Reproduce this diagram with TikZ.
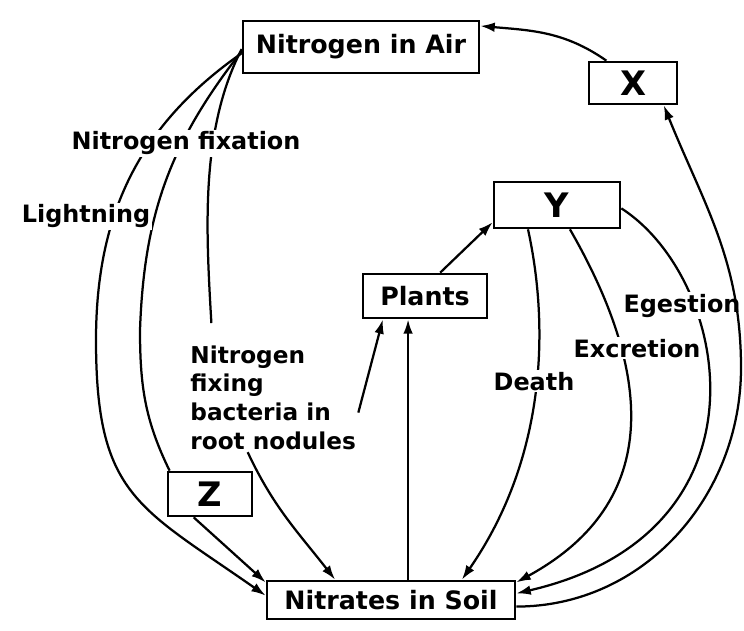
\documentclass[tikz,border=0pt]{standalone}
\usepackage{fontspec}
\setmainfont{DejaVu Sans}
\usetikzlibrary{arrows.meta,positioning,calc}

\tikzset{
  box/.style={draw, line width=1.9pt, inner sep=2pt, font=\fontsize{18}{20}\selectfont\bfseries},
  letterbox/.style={box, font=\fontsize{24}{26}\selectfont\bfseries},
  lbl/.style={fill=white, inner sep=1.5pt, font=\fontsize{17}{20.5}\selectfont\bfseries},
  link/.style={line width=1.6pt, -{Latex[length=3.6mm,width=2.4mm]}},
  plain/.style={line width=1.6pt}
}

\begin{document}
\begin{tikzpicture}[x=0.25mm, y=0.25mm]
  \useasboundingbox (0,0) rectangle (744,630);
  % boxes
  \node[box, minimum width=59mm, minimum height=13mm] (air) at (361,583) {Nitrogen in Air};
  \node[letterbox, minimum width=22mm, minimum height=10.5mm] (xbox) at (633,547) {X};
  \node[letterbox, minimum width=31.5mm, minimum height=11.5mm] (ybox) at (557,425) {Y};
  \node[box, minimum width=31mm, minimum height=11mm] (plants) at (425,334) {Plants};
  \node[letterbox, minimum width=21mm, minimum height=11mm] (zbox) at (210,136) {Z};
  \node[box, minimum width=62mm, minimum height=9.5mm] (soil) at (391,30) {Nitrates in Soil};
  \node[lbl, align=left, anchor=north west, font=\fontsize{16.5}{20.5}\selectfont\bfseries] (bact) at (188,287) {Nitrogen\\fixing\\bacteria in\\root nodules};

  % from the air down to the soil
  \draw[link] (air.183) to[out=215,in=90] (96,290) to[out=-90,in=145,looseness=1.3] (soil.178);
  \draw[plain] (air.182) to[out=232,in=88] (140,300) to[out=-90,in=116] (zbox.150);
  \draw[plain, shorten >=5mm] (air.181) .. controls (200,500) and (206,400) .. (bact.138);
  \draw[link] (zbox.235) -- (soil.172);
  \draw[link] (bact.245) to[out=-65,in=128] (soil.160);
  \draw[link] (bact.-10) -- (plants.209);

  % plants, Y and back to the soil
  \draw[link] (soil.50) -- (soil.50 |- plants.south);
  \draw[link] (plants.57) -- (ybox.195);
  \draw[link] (ybox.220) .. controls (550,300) and (545,170) .. (soil.16);
  \draw[link] (ybox.-62) .. controls (644,272) and (673,133) .. (soil.8);
  \draw[link] (ybox.-3) .. controls (731,351) and (778,97) .. (soil.3);
  \draw[link] (xbox.140) to[out=145,in=-5] (air.10);

  % labels across the lines
  \node[lbl, anchor=base] (fix) at (186,480) {Nitrogen fixation};
  \node[lbl, anchor=base] (light) at (86,407) {Lightning};
  \node[lbl, anchor=base] (death) at (534,240) {Death};
  \node[lbl, anchor=base] (excr) at (637,273) {Excretion};
  \node[lbl, anchor=base] (eges) at (682,318) {Egestion};

  % soil back up to X
  \draw[link] (soil.-3) to[out=0,in=-90] (741,262) to[out=90,in=-68] (xbox.-36);
\end{tikzpicture}
\end{document}
